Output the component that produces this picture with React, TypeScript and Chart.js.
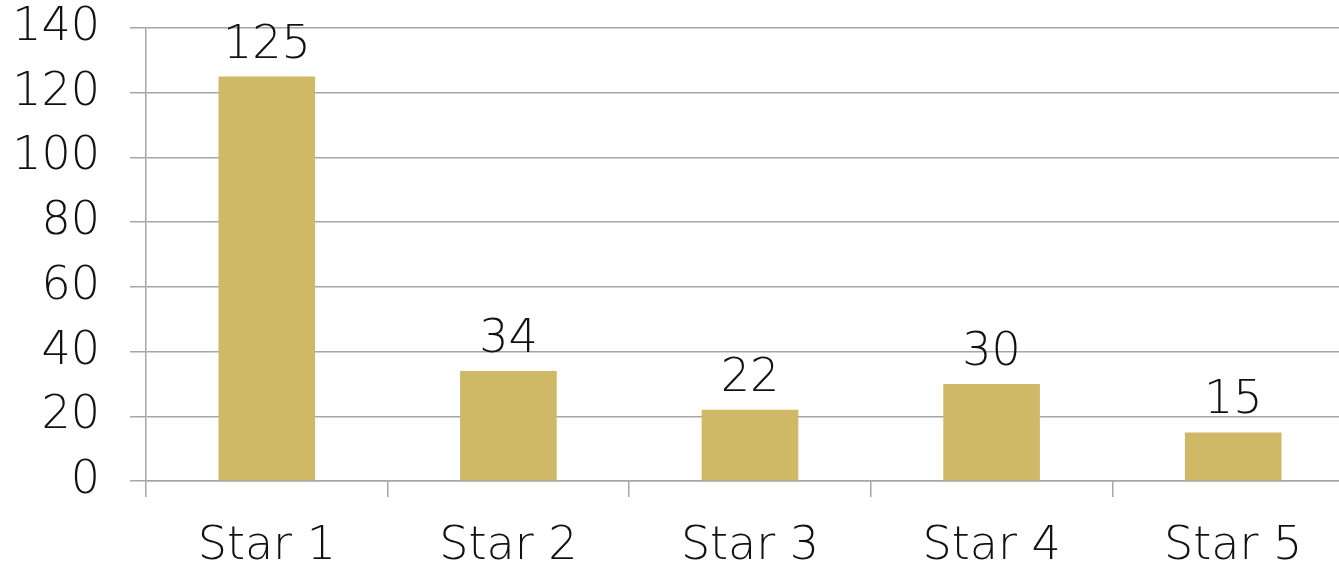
import React, { useEffect, useRef } from "react";
import { Chart, registerables } from "chart.js";

Chart.register(...registerables);

const categories = ["Star 1", "Star 2", "Star 3", "Star 4", "Star 5"];
const values = [125, 34, 22, 30, 15];
const yTicks = [0, 20, 40, 60, 80, 100, 120, 140];

const FONT = "'DejaVu Sans', sans-serif";
const SIZE = 46;

const labelPlugin = {
  id: "barLabels",
  afterDatasetsDraw(chart: any) {
    const ctx = chart.ctx;
    const meta = chart.getDatasetMeta(0);
    ctx.save();
    ctx.fillStyle = "#111";
    ctx.font = `200 ${SIZE}px ${FONT}`;
    ctx.textAlign = "center";
    ctx.textBaseline = "alphabetic";
    meta.data.forEach((bar: any, i: number) => {
      ctx.fillText(String(values[i]), bar.x, bar.y - 19);
    });
    ctx.restore();
  },
};

export default function App() {
  const ref = useRef<HTMLCanvasElement>(null);
  useEffect(() => {
    if (!ref.current) return;
    const chart = new Chart(ref.current, {
      type: "bar",
      data: {
        labels: categories,
        datasets: [
          {
            data: values,
            backgroundColor: "#CFB966",
            barPercentage: 0.4,
            categoryPercentage: 1,
          },
        ],
      },
      options: {
        animation: false,
        responsive: false,
        layout: { padding: { top: 0, right: 6, left: 0, bottom: 0 } },
        plugins: { legend: { display: false }, tooltip: { enabled: false } },
        scales: {
          x: {
            grid: {
              offset: true,
              drawOnChartArea: false,
              drawTicks: true,
              tickLength: 16,
              color: "#A6A6A6",
              lineWidth: 1.5,
            },
            border: { color: "#A6A6A6", width: 1.5 },
            ticks: {
              color: "#111",
              font: { family: FONT, size: SIZE, weight: "200" as any },
              padding: 22,
            },
            afterFit: (s: any) => {
              s.height = 86;
            },
          },
          y: {
            min: 0,
            max: 140,
            afterBuildTicks: (s: any) => {
              s.ticks = yTicks.map((v) => ({ value: v }));
            },
            grid: {
              color: "#A6A6A6",
              lineWidth: 1.5,
              tickLength: 16,
            },
            border: { color: "#A6A6A6", width: 1.5 },
            ticks: {
              color: "#111",
              font: { family: FONT, size: SIZE, weight: "200" as any },
              padding: 30,
            },
            afterFit: (s: any) => {
              s.width = 146;
              s.paddingTop = 28;
              s.paddingBottom = 0;
            },
          },
        },
      },
      plugins: [labelPlugin],
    });
    return () => chart.destroy();
  }, []);
  return (
    <div
      style={{
        position: "fixed",
        left: 0,
        top: 0,
        width: 1339,
        height: 567,
        overflow: "hidden",
        background: "#fff",
      }}
    >
      <canvas ref={ref} width={1360} height={567} style={{ display: "block" }} />
    </div>
  );
}
